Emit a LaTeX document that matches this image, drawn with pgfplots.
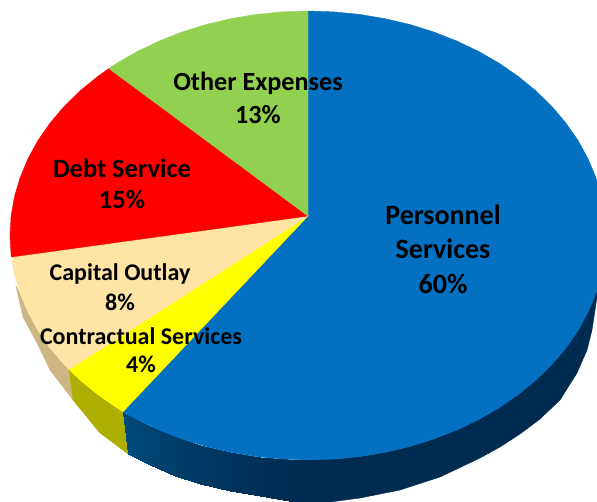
\documentclass[border=0pt]{standalone}
\usepackage{fontspec}
\setmainfont{Carlito}
\usepackage{pgfplots}
\usepgfplotslibrary{patchplots}
\pgfplotsset{compat=1.18}

\definecolor{pblue}{HTML}{0470C2}
\definecolor{pgreen}{HTML}{92D050}
\definecolor{pcream}{HTML}{FEE5A6}
\definecolor{pyellow}{HTML}{FFFF00}
\definecolor{pred}{HTML}{FF0000}
\definecolor{sidecream}{HTML}{CDB684}
\definecolor{sideyellow}{HTML}{AEAE00}
\definecolor{sidenavy}{HTML}{002B50}

\begin{document}
\begin{tikzpicture}
\begin{axis}[
    axis lines=none,
    scale only axis,
    width=597pt, height=502pt,
    xmin=0, xmax=597,
    ymin=0, ymax=502,
    y dir=reverse,
    point meta min=0, point meta max=1,
    colormap={sideblue}{rgb255(0cm)=(0,43,80); rgb255(1cm)=(0,74,125)},
    every node/.append style={text=black, inner sep=0pt},
]

% side wall, read along the rim and the lower edge
\addplot[fill=sidecream, draw=sidecream] coordinates {
    (69,369.5) (63.9,364.3) (49.9,347.8) (37.9,330.4) (28,312.3) (20.2,293.6) (16,286)
    (23,317) (37,343) (50,370) (73,400)
} --cycle;
\addplot[fill=sideyellow, draw=sideyellow] coordinates {
    (69,369.5) (79.7,379.8) (97.3,394.2) (116.4,407.5) (123,411.7)
    (128,454) (100,433) (73,400)
} --cycle;

\addplot[patch, patch type=rectangle, shader=interp, point meta=explicit]
    table[meta=c] {
    x y c
    123 411.7 1.0
    150 425.9 0.8
    150 465 0.8
    128 454 1.0
    150 425.9 0.8
    175 436.4 0.6
    175 476 0.6
    150 465 0.8
    175 436.4 0.6
    200 444.8 0.45
    200 484 0.45
    175 476 0.6
    200 444.8 0.45
    230 452.2 0.3
    230 491 0.3
    200 484 0.45
    230 452.2 0.3
    260 457.1 0.15
    260 496 0.15
    230 491 0.3
    260 457.1 0.15
    300 459.9 0
    300 503 0
    260 496 0.15
};
\addplot[fill=sidenavy, draw=sidenavy] coordinates {
    (299.5,459.9) (340,458.7) (370,455.1) (400,449) (430,440.3)
    (460,428.6) (490,413.2) (520,393.3) (545,371.6) (565,349.2) (580,327.1)
    (590,308) (597,290.3)
    (597,297) (592,330) (587,350) (577,373) (560,400) (540,419) (520,434)
    (500,447) (480,458) (440,477) (400,490) (360,498) (330,502) (299.5,503)
} --cycle;

% top face, one polygon for each slice
\addplot[fill=pblue, draw=pblue] coordinates {
    (308,216) (308,11) (334,11.9) (359.7,14.4) (385.1,18.7) (409.9,24.5) (433.9,32)
    (457,41.1) (478.9,51.6) (499.6,63.5) (518.7,76.8) (536.3,91.2) (552.1,106.7)
    (566.1,123.3) (578.1,140.6) (588,158.7) (595.8,177.4) (601.5,196.5) (604.9,215.9)
    (606,235.5) (604.9,255.1) (601.5,274.5) (595.8,293.6) (588,312.3) (578.1,330.4)
    (566.1,347.8) (552.1,364.3) (536.3,379.8) (518.7,394.2) (499.6,407.5) (478.9,419.4)
    (457,429.9) (433.9,439) (409.9,446.5) (385.1,452.3) (359.7,456.6) (334,459.1)
    (308,460) (282,459.1) (256.3,456.6) (230.9,452.3) (206.1,446.5) (182.1,439)
    (159,429.9) (137.1,419.4) (123,411.7)
} --cycle;
\addplot[fill=pyellow, draw=pyellow] coordinates {
    (308,216) (123,411.7) (116.4,407.5) (97.3,394.2) (79.7,379.8) (69,369.5)
} --cycle;
\addplot[fill=pcream, draw=pcream] coordinates {
    (308,216) (69,369.5) (63.9,364.3) (49.9,347.8) (37.9,330.4) (28,312.3)
    (20.2,293.6) (14.5,274.5) (11.4,257)
} --cycle;
\addplot[fill=pred, draw=pred] coordinates {
    (308,216) (11.4,257) (11.1,255.1) (10,235.5) (11.1,215.9) (14.5,196.5) (20.2,177.4)
    (28,158.7) (37.9,140.6) (49.9,123.3) (63.9,106.7) (79.7,91.2) (97.3,76.8) (108.9,68.5)
} --cycle;
\addplot[fill=pgreen, draw=pgreen] coordinates {
    (308,216) (108.9,68.5) (116.4,63.5) (137.1,51.6) (159,41.1) (182.1,32) (206.1,24.5)
    (230.9,18.7) (256.3,14.4) (282,11.9) (308,11)
} --cycle;

% labels
\node[font=\bfseries\fontsize{28}{28}\selectfont] at (axis cs:443,215) {Personnel};
\node[font=\bfseries\fontsize{28}{28}\selectfont] at (axis cs:443,249) {Services};
\node[font=\bfseries\fontsize{28}{28}\selectfont] at (axis cs:443,284) {60\%};
\node[font=\bfseries\fontsize{26.2}{26.2}\selectfont] at (axis cs:258,83) {Other Expenses};
\node[font=\bfseries\fontsize{26.2}{26.2}\selectfont] at (axis cs:258,115) {13\%};
\node[font=\bfseries\fontsize{26.4}{26.4}\selectfont] at (axis cs:122,168) {Debt Service};
\node[font=\bfseries\fontsize{26.4}{26.4}\selectfont] at (axis cs:122,200) {15\%};
\node[font=\bfseries\fontsize{24}{24}\selectfont] at (axis cs:120,274) {Capital Outlay};
\node[font=\bfseries\fontsize{24}{24}\selectfont] at (axis cs:120,302) {8\%};
\node[font=\bfseries\fontsize{24}{24}\selectfont] at (axis cs:141,336) {Contractual Services};
\node[font=\bfseries\fontsize{24}{24}\selectfont] at (axis cs:141,364) {4\%};
\end{axis}
\pgfresetboundingbox
\path[use as bounding box] (0,0) rectangle (597pt,502pt);
\end{tikzpicture}
\end{document}
